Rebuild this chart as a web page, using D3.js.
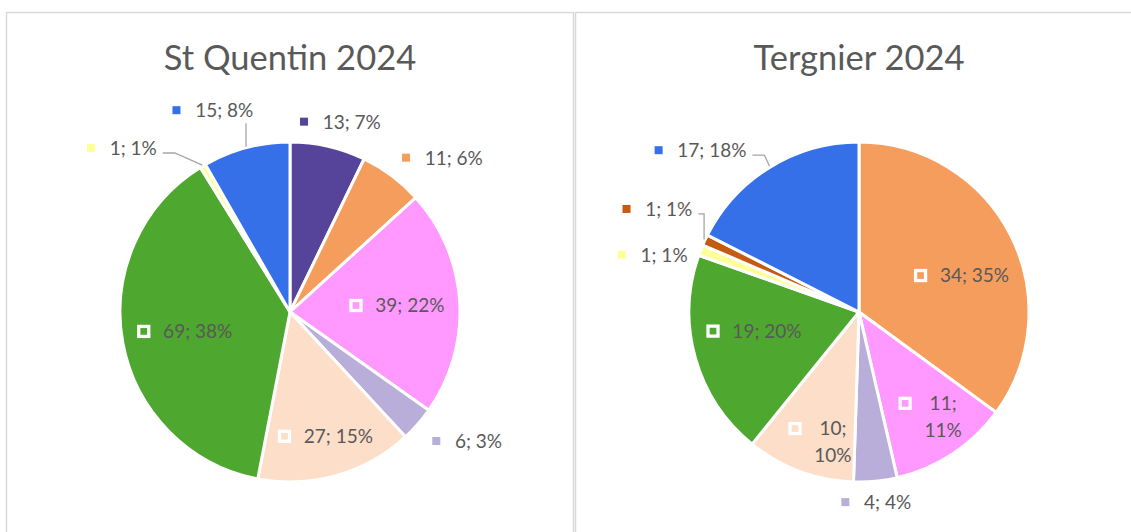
<!DOCTYPE html>
<html>
<head>
<meta charset="utf-8">
<script src="https://cdn.jsdelivr.net/npm/d3@7"></script>
<style>
  html, body { margin: 0; padding: 0; background: #fff; }
  svg { display: block; font-family: Lato, "Open Sans", sans-serif; }
</style>
</head>
<body>
<svg id="chart" width="1131" height="532"></svg>
<script>
// Same categories in both pies (colour follows the category)
var categories = ["Cat. 1", "Cat. 2", "Cat. 3", "Cat. 4", "Cat. 5", "Cat. 6", "Cat. 7", "Cat. 8", "Cat. 9"];
var stQuentin = [13, 11, 39, 6, 27, 69, 1, 0, 15];
var tergnier = [0, 34, 11, 4, 10, 19, 1, 1, 17];
var titles = ["St Quentin 2024", "Tergnier 2024"];

var palette = ["#55449A", "#F59D5D", "#FF99FF", "#B8AED9", "#FCDEC9", "#4EA72E", "#FFFF99", "#C55A11", "#3670E8"];
var color = d3.scaleOrdinal().domain(categories).range(palette);

// label tweaks, like labels dragged by hand in excel
var labelOpts = [
  { outside: [], nudge: {"Cat. 7": [-53, 5], "Cat. 9": [-19, -13], "Cat. 2": [12, 4], "Cat. 4": [4, -2]} },
  { outside: ["Cat. 9"], nudge: {"Cat. 9": [-34, 6], "Cat. 8": [0, -20], "Cat. 7": [0, 14], "Cat. 4": [-4, -4],
                                 "Cat. 2": [7, 12], "Cat. 3": [0, -3], "Cat. 5": [6, 9], "Cat. 6": [-2, -10]} }
];

var svg = d3.select("#chart");
svg.append("rect").attr("width", 1131).attr("height", 532).attr("fill", "#fff");

var panelW = 567, panelTop = 12.5;
var radius = 170, pieY = 312;
var fontSize = 19;
var textColor = "#595959";

var pie = d3.pie().sort(null).value(function(d) { return d.value; });
var arc = d3.arc().innerRadius(0).outerRadius(radius);

function drawPie(idx, values) {
  var x0 = 6.5 + idx * (panelW + 2);
  var opts = labelOpts[idx];
  var panel = svg.append("g");

  panel.append("rect")
    .attr("x", x0).attr("y", panelTop)
    .attr("width", panelW).attr("height", 600)
    .attr("fill", "#fff")
    .attr("stroke", "#D9D9D9")
    .attr("stroke-width", 1.5);

  panel.append("text")
    .attr("x", x0 + panelW / 2)
    .attr("y", 70)
    .attr("text-anchor", "middle")
    .attr("fill", textColor)
    .attr("font-size", 34.5)
    .text(titles[idx]);

  var cx = x0 + panelW / 2;
  var g = panel.append("g").attr("transform", "translate(" + cx + "," + pieY + ")");

  var data = categories.map(function(c, i) { return {cat: c, value: values[i]}; })
    .filter(function(d) { return d.value > 0; });
  var total = d3.sum(data, function(d) { return d.value; });
  var arcs = pie(data);

  g.selectAll("path.slice")
    .data(arcs)
    .enter().append("path")
    .attr("class", "slice")
    .attr("d", arc)
    .attr("fill", function(d) { return color(d.data.cat); })
    .attr("stroke", "#fff")
    .attr("stroke-width", 3)
    .attr("stroke-linejoin", "round");

  arcs.forEach(function(d) {
    var span = (d.endAngle - d.startAngle) * 180 / Math.PI;
    var mid = (d.startAngle + d.endAngle) / 2;
    var s = Math.sin(mid), c = -Math.cos(mid);
    var pct = Math.round(100 * d.data.value / total);
    var outside = span < 35 || opts.outside.indexOf(d.data.cat) >= 0;
    var wrap = !outside && span < 45;
    var lines = wrap ? [d.data.value + ";", pct + "%"] : [d.data.value + "; " + pct + "%"];

    var lab = g.append("g");
    var txt = lab.append("text")
      .attr("fill", textColor)
      .attr("font-size", fontSize)
      .attr("text-anchor", "middle");
    var spans = lines.map(function(l) { return txt.append("tspan").text(l); });
    var textW = d3.max(spans, function(t) { return t.node().getComputedTextLength(); });

    var lead = outside ? 22.7 : 26;
    var w = lead + textW;
    var lineH = 27;
    var h = 22 + (lines.length - 1) * lineH;

    // label centre
    var lx, ly;
    if (outside) {
      var ra = radius + 14, m = Math.max(Math.abs(s), Math.abs(c));
      lx = s * ra + (w / 2) * s / m;
      ly = c * ra + (h / 2) * c / m;
    } else {
      var rl = radius * (pct >= 18 ? 0.63 : 0.76);
      lx = s * rl;
      ly = c * rl;
    }
    var nd = opts.nudge[d.data.cat] || [0, 0];
    lx += nd[0];
    ly += nd[1];

    var left = lx - w / 2;
    var firstY = ly - (lines.length - 1) * lineH / 2;
    spans.forEach(function(t, i) {
      t.attr("x", left + lead + textW / 2).attr("y", firstY + i * lineH + 0.36 * fontSize);
    });

    if (outside) {
      lab.append("rect")
        .attr("x", left).attr("y", firstY - 4)
        .attr("width", 8).attr("height", 8)
        .attr("fill", color(d.data.cat));
    } else {
      lab.append("rect")
        .attr("x", left + 1.65).attr("y", firstY - 5)
        .attr("width", 10).attr("height", 10)
        .attr("fill", color(d.data.cat))
        .attr("stroke", "#fff")
        .attr("stroke-width", 3.3);
    }

    // leader line when the label was moved away
    if (outside && Math.hypot(nd[0], nd[1]) > 15) {
      var p0 = [s * (radius + 1), c * (radius + 1)];
      var pts;
      if (p0[0] >= left && p0[0] <= left + w) {
        var sy = p0[1] > ly ? ly + h / 2 + 2 : ly - h / 2 - 2;
        pts = [[p0[0], sy], p0];
      } else {
        var dir = p0[0] > lx ? 1 : -1;
        var sx = dir > 0 ? left + w + 6 : left - 6;
        var ey = ly + 5;
        var ex = dir > 0 ? Math.min(sx + 12, p0[0]) : Math.max(sx - 12, p0[0]);
        pts = [[sx, ey], [ex, ey], p0];
      }
      g.append("path")
        .attr("d", d3.line()(pts))
        .attr("fill", "none")
        .attr("stroke", "#A6A6A6")
        .attr("stroke-width", 1.3);
    }
  });
}

drawPie(0, stQuentin);
drawPie(1, tergnier);
</script>
</body>
</html>
